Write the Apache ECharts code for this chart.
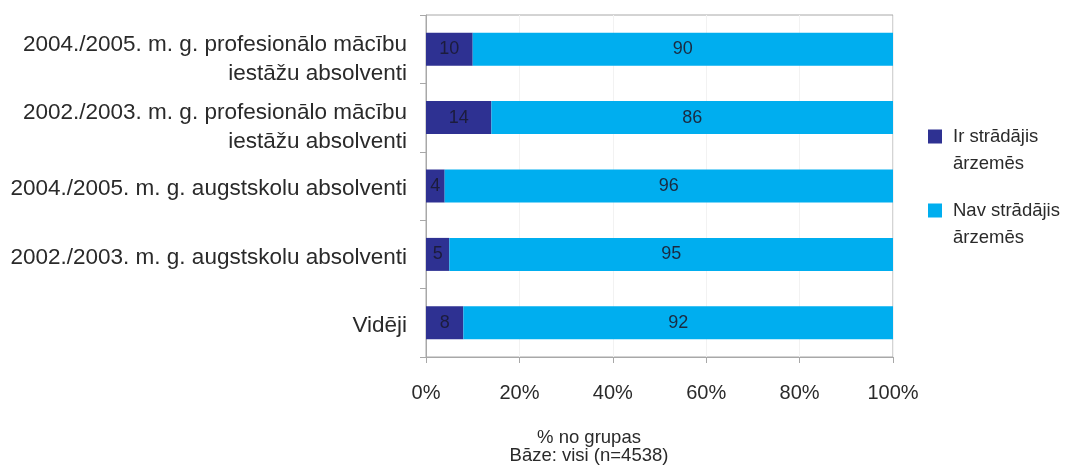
<!DOCTYPE html>
<html><head><meta charset="utf-8">
<script src="https://cdn.jsdelivr.net/npm/echarts@6/dist/echarts.min.js"></script>
<style>html,body{margin:0;padding:0;background:#fff}#c{width:1086px;height:467px}</style>
</head><body><div id="c"></div>
<script>
const categories = [
  "2004./2005. m. g. profesionālo mācību\niestāžu absolventi",
  "2002./2003. m. g. profesionālo mācību\niestāžu absolventi",
  "2004./2005. m. g. augstskolu absolventi",
  "2002./2003. m. g. augstskolu absolventi",
  "Vidēji"
];
const seriesNames = ["Ir strādājis\nārzemēs", "Nav strādājis\nārzemēs"];
const worked = [10, 14, 4, 5, 8];
const notWorked = [90, 86, 96, 95, 92];
const xTicks = [0, 20, 40, 60, 80, 100];

const chart = echarts.init(document.getElementById('c'));
const font = 'Liberation Sans, Arial, sans-serif';
const labelColor = '#2a2a2a';
chart.setOption({
  animation: false,
  backgroundColor: '#fff',
  textStyle: {fontFamily: font},
  grid: {left: 426, right: 193, top: 15, bottom: 110, show: true, borderColor: '#a8a8a8', borderWidth: 1},
  title: {
    text: '% no grupas\nBāze: visi (n=4538)',
    left: 584, top: 424, textAlign: 'center',
    textStyle: {fontFamily: font, fontSize: 18.5, fontWeight: 'normal', color: labelColor, lineHeight: 18}
  },
  legend: {
    orient: 'vertical', left: 928, top: 123, padding: 0,
    itemWidth: 14, itemHeight: 41, itemGap: 20, symbolKeepAspect: false,
    icon: 'path://M0,0L14,0L14,14L0,14Z M0,41L0.05,41L0.05,40.95Z',
    textStyle: {fontFamily: font, fontSize: 18.5, color: labelColor, lineHeight: 27, padding: [0, 0, 0, 6]},
    data: seriesNames
  },
  xAxis: {
    type: 'value', min: 0, max: 100, interval: 20,
    axisLine: {show: true, lineStyle: {color: '#a8a8a8'}},
    axisTick: {show: true, length: 6, lineStyle: {color: '#a8a8a8'}},
    splitLine: {show: true, lineStyle: {color: '#f2f2f2'}},
    axisLabel: {fontFamily: font, fontSize: 20, color: labelColor, margin: 26,
      formatter: v => xTicks.includes(v) ? v + '%' : ''}
  },
  yAxis: {
    type: 'category', inverse: true, data: categories,
    axisLine: {show: true, lineStyle: {color: '#a8a8a8'}},
    axisTick: {show: true, length: 6, lineStyle: {color: '#a8a8a8'}},
    axisLabel: {
      interval: 0, fontFamily: font, fontSize: 22.5, color: labelColor, margin: 19, lineHeight: 29, align: 'right',
      formatter: v => {
        const lines = v.split('\n');
        const pre = lines.length > 1 ? '{s| }' : '{s2| }';
        return pre + '\n' + lines.map(l => '{a|' + l + '}').join('\n');
      },
      rich: {
        a: {fontFamily: font, fontSize: 22.5, lineHeight: 29, color: labelColor, align: 'right'},
        s: {fontSize: 1, lineHeight: 20},
        s2: {fontSize: 1, lineHeight: 6}
      }
    }
  },
  series: [
    {name: seriesNames[0], type: 'bar', stack: 's', data: worked, barWidth: 33,
      itemStyle: {color: '#2e3192'},
      label: {show: true, position: 'inside', fontFamily: font, fontSize: 18, color: '#1c1c3c'}},
    {name: seriesNames[1], type: 'bar', stack: 's', data: notWorked, barWidth: 33,
      itemStyle: {color: '#00aeef'},
      label: {show: true, position: 'inside', fontFamily: font, fontSize: 18, color: '#1a2a40'}}
  ]
});
</script></body></html>
